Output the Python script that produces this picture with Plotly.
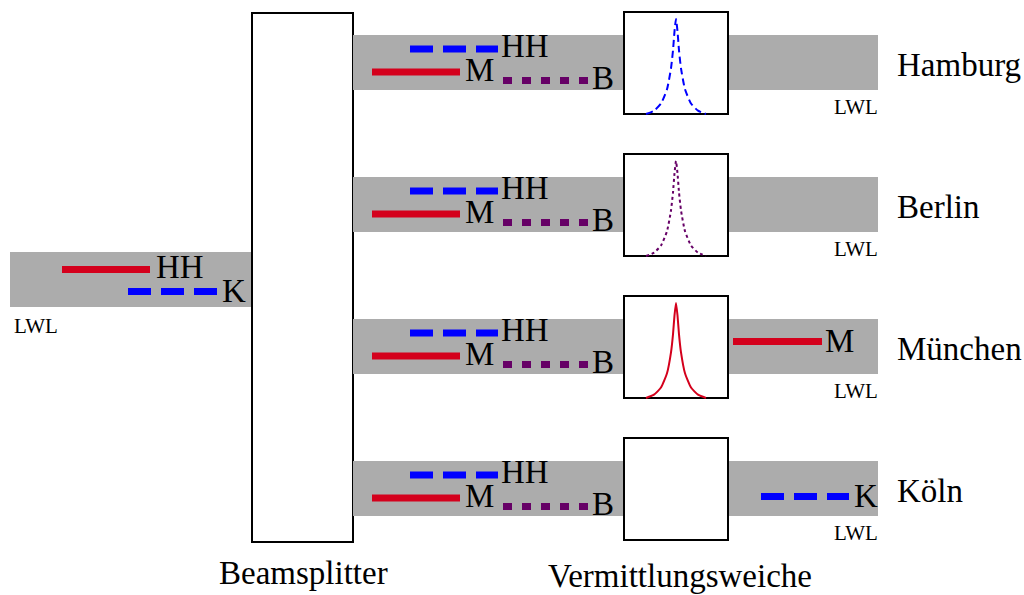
import plotly.graph_objects as go

# ---------------- data ----------------
cities = ["Hamburg", "Berlin", "München", "Köln"]
input_signals = ["HH", "K"]                 # carried on the incoming fibre
branch_signals = ["HH", "M", "B"]           # copied onto every branch by the beamsplitter
filter_peak = ["HH", "B", "M", None]        # resonance drawn in each switch box
output_signal = [None, None, "M", "K"]      # what leaves each switch
fibre_label = "LWL"
splitter_label = "Beamsplitter"
switch_label = "Vermittlungsweiche"

# peak profile (offset px, relative height)
peak_offsets = [-30, -22, -15, -9, -5, -3, -1.5, 0, 1.5, 3, 5, 9, 15, 22, 30]
peak_heights = [0, 0.035, 0.11, 0.26, 0.48, 0.67, 0.87, 1.0, 0.87, 0.67, 0.48, 0.26, 0.11, 0.035, 0]

# ---------------- styles / layout ----------------
RED, BLUE, PURPLE, GRAY = "#d4001c", "#0000ff", "#660066", "#acacac"
FONT = "Liberation Serif"
BIG, SMALL = 33, 21
sig_style = {
    "HH": dict(color=BLUE, dash="23px,10px"),
    "M": dict(color=RED, dash="solid"),
    "B": dict(color=PURPLE, dash="9px,10px"),
    "K": dict(color=BLUE, dash="23px,10px"),
}
peak_dash = {"HH": "7px,4px", "B": "3px,3px", "M": "solid"}

fig = go.Figure()
shapes, annos = [], []


def text(x, baseline, s, size=BIG, anchor="left"):
    annos.append(dict(x=x, y=baseline - 0.34 * size, text=s, showarrow=False,
                      xref="x", yref="y", xanchor=anchor, yanchor="middle",
                      borderpad=0, font=dict(family=FONT, size=size, color="black")))


def seg(x0, x1, y, color, dash):
    shapes.append(dict(type="line", x0=x0, x1=x1, y0=y, y1=y, xref="x", yref="y",
                       line=dict(color=color, width=7, dash=dash), layer="above"))


def rect(x0, y0, x1, y1, fill, border=None):
    shapes.append(dict(type="rect", x0=x0, x1=x1, y0=y0, y1=y1, xref="x", yref="y",
                       fillcolor=fill, layer="below",
                       line=dict(color=border or fill, width=2 if border else 0)))


# incoming fibre
rect(10, 252, 252, 307, GRAY)
input_style = [dict(color=RED, dash="solid"), dict(color=BLUE, dash="23px,10px")]
input_pos = [(62, 150, 269.5, 155, 278), (128, 217, 291.5, 221, 302)]
for lab, st, (x0, x1, y, tx, tb) in zip(input_signals, input_style, input_pos):
    seg(x0, x1, y, st["color"], st["dash"])
    text(tx, tb, lab)
text(13, 333, fibre_label, SMALL)

# beamsplitter
rect(252, 13, 353, 542, "white", "black")
text(303, 584, splitter_label, anchor="center")

branch_pos = {"HH": (410, 498, 14, 500, 22), "M": (372, 460, 37, 464, 46),
              "B": (503, 588, 45.5, 591, 54)}
out_pos = {"M": (733, 822, 22.5, 824, 33), "K": (761, 849, 35.5, 853, 46)}

for i, city in enumerate(cities):
    T = 35 + 142 * i
    rect(353, T, 878, T + 55, GRAY)
    rect(624, T - 23, 728, T + 79, "white", "black")
    for lab in branch_signals:
        x0, x1, dy, tx, tb = branch_pos[lab]
        seg(x0, x1, T + dy, sig_style[lab]["color"], sig_style[lab]["dash"])
        text(tx, T + tb, lab)
    pk = filter_peak[i]
    if pk:
        cx, base, h = 676, T + 79, 95
        fig.add_trace(go.Scatter(
            x=[cx + o for o in peak_offsets], y=[base - h * v for v in peak_heights],
            mode="lines", line=dict(color=sig_style[pk]["color"], width=2,
                                    dash=peak_dash[pk], shape="spline", smoothing=0.5),
            hoverinfo="skip", showlegend=False))
    out = output_signal[i]
    if out:
        x0, x1, dy, tx, tb = out_pos[out]
        seg(x0, x1, T + dy, sig_style[out]["color"], sig_style[out]["dash"])
        text(tx, T + tb, out)
    text(879, T + 79, fibre_label, SMALL, anchor="right")
    text(896, T + 41, city)

text(680, 587, switch_label, anchor="center")

fig.update_layout(
    width=1024, height=595, margin=dict(l=0, r=0, t=0, b=0),
    paper_bgcolor="white", plot_bgcolor="white", showlegend=False,
    shapes=shapes, annotations=annos,
    xaxis=dict(range=[0, 1024], visible=False, fixedrange=True),
    yaxis=dict(range=[595, 0], visible=False, fixedrange=True),
)
fig.write_html("out.html", config={"displayModeBar": False},
               post_script="document.body.style.margin='0';document.body.style.overflow='hidden';")
